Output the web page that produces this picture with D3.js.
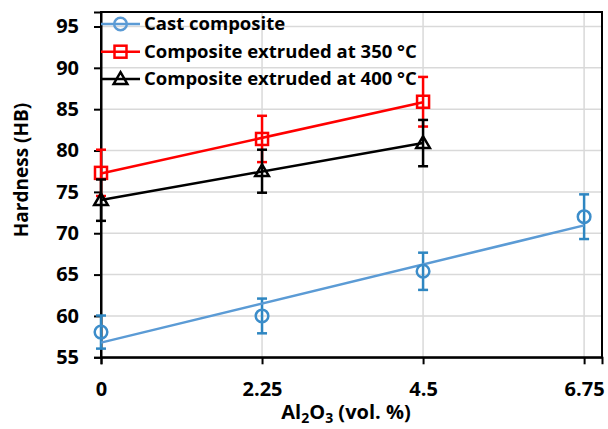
<!DOCTYPE html>
<html>
<head>
<meta charset="utf-8">
<script src="https://cdn.jsdelivr.net/npm/d3@7"></script>
<style>
  html, body { margin: 0; padding: 0; background: #fff; }
  svg { display: block; font-family: "Open Sans", sans-serif; font-weight: 700; }
</style>
</head>
<body>
<svg id="chart"></svg>
<script>
// data
const alContent = [0, 2.25, 4.5, 6.75]
const castMean = [58.05, 60, 65.4, 72]
const castErr = [2.0, 2.1, 2.25, 2.7]
const ext350Mean = [77.3, 81.4, 85.9]
const ext350Err = [2.8, 2.8, 3.0]
const ext400Mean = [74.0, 77.5, 80.9]
const ext400Err = [2.5, 2.6, 2.8]
const seriesNames = ['Cast composite', 'Composite extruded at 350 °C', 'Composite extruded at 400 °C']
const yTicks = [55, 60, 65, 70, 75, 80, 85, 90, 95]
const xTicks = [0, 2.25, 4.5, 6.75]

const W = 608, H = 429
const svg = d3.select('#chart').attr('width', W).attr('height', H)

const x = d3.scaleLinear().domain([0, 7]).range([101, 602])
const y = d3.scaleLinear().domain([55, 96.75]).range([357.3, 12])

const series = [
  { name: seriesNames[0], mean: castMean, err: castErr, line: '#5B9BD5', mark: '#3C8DCA', bar: '#2E86C1', shape: 'circle' },
  { name: seriesNames[1], mean: ext350Mean, err: ext350Err, line: '#FF0000', mark: '#FF0000', bar: '#FF0000', shape: 'square' },
  { name: seriesNames[2], mean: ext400Mean, err: ext400Err, line: '#000000', mark: '#000000', bar: '#000000', shape: 'triangle' }
]

// gridlines
svg.append('g')
  .selectAll('line')
  .data(yTicks.slice(1))
  .enter().append('line')
  .attr('x1', x(0)).attr('x2', x(7))
  .attr('y1', d => y(d)).attr('y2', d => y(d))
  .attr('stroke', '#D9D9D9').attr('stroke-width', 1.5)

svg.append('g')
  .selectAll('line')
  .data(xTicks.slice(1))
  .enter().append('line')
  .attr('x1', d => x(d)).attr('x2', d => x(d))
  .attr('y1', y(55)).attr('y2', y(96.75))
  .attr('stroke', '#D9D9D9').attr('stroke-width', 1.5)

// frame
svg.append('rect')
  .attr('x', x(0)).attr('y', y(96.75))
  .attr('width', x(7) - x(0)).attr('height', y(55) - y(96.75))
  .attr('fill', 'none').attr('stroke', '#000').attr('stroke-width', 2)

// axes
const yAxis = svg.append('g')
  .attr('transform', `translate(${x(0)},0)`)
  .call(d3.axisLeft(y).tickValues(yTicks).tickSize(7).tickPadding(15).tickFormat(d3.format('d')))
const xAxis = svg.append('g')
  .attr('transform', `translate(0,${y(55)})`)
  .call(d3.axisBottom(x).tickValues(xTicks).tickSize(7).tickPadding(18).tickFormat(d => String(d)))

;[yAxis, xAxis].forEach(g => {
  g.select('.domain').attr('stroke', '#000').attr('stroke-width', 2)
  g.selectAll('.tick line').attr('stroke', '#000').attr('stroke-width', 2)
  g.selectAll('.tick text')
    .attr('fill', '#000')
    .style('font-family', '"Open Sans", sans-serif')
    .style('font-weight', 700)
    .style('font-size', '20px')
})

// axis titles
svg.append('text')
  .attr('transform', 'translate(28,170) rotate(-90)')
  .attr('text-anchor', 'middle')
  .style('font-size', '19px')
  .text('Hardness (HB)')

const xt = svg.append('text')
  .attr('x', 346).attr('y', 419)
  .attr('text-anchor', 'middle')
  .style('font-size', '20px')
xt.append('tspan').text('Al')
xt.append('tspan').attr('dy', 4).style('font-size', '14px').text('2')
xt.append('tspan').attr('dy', -4).text('O')
xt.append('tspan').attr('dy', 4).style('font-size', '14px').text('3')
xt.append('tspan').attr('dy', -4).text(' (vol. %)')

function drawMarker(g, shape, cx, cy, color) {
  if (shape === 'circle') {
    g.append('circle').attr('cx', cx).attr('cy', cy).attr('r', 6.3)
      .attr('fill', 'none').attr('stroke', color).attr('stroke-width', 2.5)
  } else if (shape === 'square') {
    g.append('rect').attr('x', cx - 6).attr('y', cy - 6).attr('width', 12).attr('height', 12)
      .attr('fill', 'none').attr('stroke', color).attr('stroke-width', 2.5)
  } else {
    const s = 6.5
    g.append('path')
      .attr('d', `M${cx},${cy - s * 1.05}L${cx + s * 1.05},${cy + s * 0.75}L${cx - s * 1.05},${cy + s * 0.75}Z`)
      .attr('fill', 'none').attr('stroke', color).attr('stroke-width', 2.5)
  }
}

// least squares trendline, like the spreadsheet's linear trend
function fit(xs, ys) {
  const mx = d3.mean(xs), my = d3.mean(ys)
  const sxy = d3.sum(xs, (v, i) => (v - mx) * (ys[i] - my))
  const sxx = d3.sum(xs, v => (v - mx) * (v - mx))
  const b = sxy / sxx
  return { b, a: my - b * mx }
}

series.forEach(s => {
  const g = svg.append('g')
  const xs = alContent.slice(0, s.mean.length)
  const pts = xs.map((v, i) => ({ x: v, y: s.mean[i], e: s.err[i] }))

  // error bars
  pts.forEach(p => {
    g.append('line')
      .attr('x1', x(p.x)).attr('x2', x(p.x))
      .attr('y1', y(p.y - p.e)).attr('y2', y(p.y + p.e))
      .attr('stroke', s.bar).attr('stroke-width', 2.5)
    ;[p.y - p.e, p.y + p.e].forEach(v => {
      g.append('line')
        .attr('x1', x(p.x) - 5).attr('x2', x(p.x) + 5)
        .attr('y1', y(v)).attr('y2', y(v))
        .attr('stroke', s.bar).attr('stroke-width', 2.5)
    })
  })

  const f = fit(xs, s.mean)
  const x0 = d3.min(xs), x1 = d3.max(xs)
  g.append('line')
    .attr('x1', x(x0)).attr('y1', y(f.a + f.b * x0))
    .attr('x2', x(x1)).attr('y2', y(f.a + f.b * x1))
    .attr('stroke', s.line).attr('stroke-width', 2.5)

  pts.forEach(p => drawMarker(g, s.shape, x(p.x), y(p.y), s.mark))
})

// legend
const legendY = [24, 51.7, 79]
series.forEach((s, i) => {
  const g = svg.append('g')
  g.append('line')
    .attr('x1', 101).attr('x2', 140)
    .attr('y1', legendY[i]).attr('y2', legendY[i])
    .attr('stroke', s.line).attr('stroke-width', 2.5)
  drawMarker(g, s.shape, 120.5, legendY[i], s.shape === 'circle' ? s.line : s.mark)
  g.append('text')
    .attr('x', 144).attr('y', legendY[i])
    .attr('dy', '0.35em')
    .style('font-size', '18.5px')
    .text(s.name)
})
</script>
</body>
</html>
